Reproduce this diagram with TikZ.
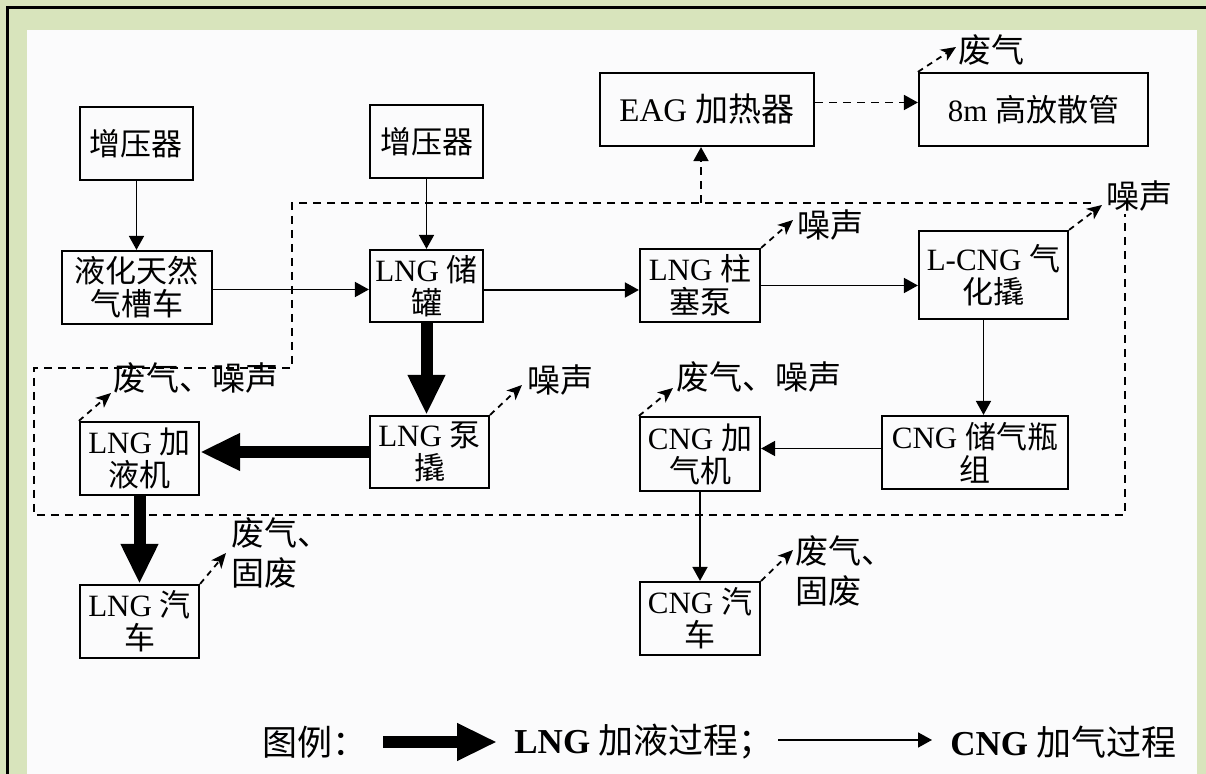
\documentclass[tikz,border=0pt]{standalone}
\usepackage{fontspec}
\setmainfont{Liberation Serif}
\newfontfamily\cjk{Noto Sans CJK SC}
\usetikzlibrary{arrows.meta}
\definecolor{bggreen}{HTML}{D8E4BC}
\definecolor{paper}{HTML}{FBFBFC}
\newcommand\zh[1]{{\cjk #1}}
\tikzset{
  box/.style={draw, line width=1.1pt, inner sep=0pt, align=center, font=\fontsize{15.5}{16.5}\selectfont},
  flow/.style={line width=0.9pt, -{Triangle[width=7.5pt,length=7pt]}},
  bigflow/.style={line width=6pt, -{Triangle[width=17.5pt,length=20pt]}},
  dashflow/.style={line width=0.9pt, dash pattern=on 4pt off 3pt, -{Triangle[width=7.5pt,length=7pt]}},
  region/.style={line width=0.9pt, dash pattern=on 4pt off 3pt},
  emit/.style={line width=0.9pt, dash pattern=on 3pt off 2.5pt, -{Stealth[width=6.5pt,length=7.5pt,inset=2pt]}},
  lbl/.style={inner sep=0pt, anchor=west, align=left, font=\fontsize{16.5}{20}\selectfont},
  legend/.style={inner sep=0pt, anchor=west, font=\fontsize{17.5}{20}\selectfont},
}
\begin{document}
\begin{tikzpicture}[x=0.5pt,y=-0.5pt]
\useasboundingbox (0,0) rectangle (1206,774);
% frame
\fill[bggreen] (0,0) rectangle (1206,774);
\fill[paper] (27,30) rectangle (1197,774);
\draw[line width=1.5pt] (7,774) -- (7,8) -- (1206,8);

% boxes
\node[box, minimum width=56.5pt, minimum height=36.5pt] (b1) at (136.5,143.5) {\zh{增压器}};
\node[box, minimum width=56.5pt, minimum height=36.5pt] (b2) at (426.5,141.5) {\zh{增压器}};
\node[box, minimum width=107pt, minimum height=36.5pt, font=\fontsize{16.5}{18}\selectfont] (eag) at (707,109.5) {EAG \zh{加热器}};
\node[box, minimum width=114.5pt, minimum height=36.5pt] (vent) at (1033.5,109.5) {8m \zh{高放散管}};
\node[box, minimum width=75pt, minimum height=36.5pt] (truck) at (137,287.5) {\zh{液化天然}\\\zh{气槽车}};
\node[box, minimum width=56.5pt, minimum height=36pt] (tank) at (426.5,286) {LNG \zh{储}\\\zh{罐}};
\node[box, minimum width=60pt, minimum height=36.5pt] (pump) at (700,285.5) {LNG \zh{柱}\\\zh{塞泵}};
\node[box, minimum width=74.5pt, minimum height=44pt] (vap) at (993.5,275) {L-CNG \zh{气}\\\zh{化撬}};
\node[box, minimum width=59.5pt, minimum height=36.5pt] (disp) at (139.5,458.5) {LNG \zh{加}\\\zh{液机}};
\node[box, minimum width=59.5pt, minimum height=36pt] (skid) at (429.5,452) {LNG \zh{泵}\\\zh{撬}};
\node[box, minimum width=59.5pt, minimum height=36.5pt] (lcar) at (139.5,621.5) {LNG \zh{汽}\\\zh{车}};
\node[box, minimum width=60pt, minimum height=37pt] (cngd) at (700,454) {CNG \zh{加}\\\zh{气机}};
\node[box, minimum width=93pt, minimum height=36.5pt] (store) at (975,452.5) {CNG \zh{储气瓶}\\\zh{组}};
\node[box, minimum width=60pt, minimum height=36.5pt] (ccar) at (700,618.5) {CNG \zh{汽}\\\zh{车}};

% dashed region
\draw[region] (1091,203) -- (292,203) -- (292,368) -- (34,368) -- (34,515) -- (1125,515) -- (1125,214);
\coordinate (tap) at (701,203);
\draw[dashflow] (tap) -- (tap |- eag.south);
\draw[dashflow] ([yshift=3.5pt]eag.east) -- ([yshift=3.5pt]eag.east -| vent.west);

% thin flows
\draw[flow] (b1.south) -- (b1.south |- truck.north);
\draw[flow] (b2.south) -- (b2.south |- tank.north);
\draw[flow] ([yshift=-1pt]truck.east) -- ([yshift=-1pt]truck.east -| tank.west);
\draw[flow] ([yshift=-2pt]tank.east) -- ([yshift=-2pt]tank.east -| pump.west);
\draw[flow] (pump.east) -- (pump.east -| vap.west);
\draw[flow] ([xshift=-5pt]vap.south) -- ([xshift=-5pt]vap.south |- store.north);
\draw[flow] ([yshift=2pt]store.west) -- ([yshift=2pt]store.west -| cngd.east);
\draw[flow] (cngd.south) -- (cngd.south |- ccar.north);

% thick flows
\draw[bigflow] (tank.south) -- (tank.south |- skid.north);
\draw[bigflow] (skid.west) -- (skid.west -| disp.east);
\draw[bigflow] (disp.south) -- (disp.south |- lcar.north);

% emissions
\coordinate (e1) at (956,47);
\draw[emit] (vent.north west) -- (e1);
\node[lbl] (l1) at (958,50) {\zh{废气}};
\coordinate (e2) at (1102,205);
\draw[emit] (vap.north east) -- (e2);
\node[lbl, fill=paper, inner sep=1pt] (l2) at (1104,196) {\zh{噪声}};
\coordinate (e3) at (793,220);
\draw[emit] (pump.north east) -- (e3);
\node[lbl] (l3) at (797,225) {\zh{噪声}};
\coordinate (e4) at (673,388);
\draw[emit] (cngd.north west) -- (e4);
\node[lbl] (l4) at (676,377) {\zh{废气、噪声}};
\coordinate (e5) at (522,385);
\draw[emit] (skid.north east) -- (e5);
\node[lbl] (l5) at (527,380) {\zh{噪声}};
\coordinate (e6) at (111,393);
\draw[emit] (disp.north west) -- (e6);
\node[lbl] (l6) at (113,378) {\zh{废气、噪声}};
\coordinate (e7) at (226,553);
\draw[emit] (lcar.north east) -- (e7);
\node[lbl] (l7) at (231,553) {\zh{废气、}\\\zh{固废}};
\coordinate (e8) at (793,550);
\draw[emit] (ccar.north east) -- (e8);
\node[lbl] (l8) at (795,571) {\zh{废气、}\\\zh{固废}};

% legend
\node[legend] (lg) at (262,742) {\zh{图例：}};
\coordinate (la1) at (383,742);
\coordinate (la2) at (497,742);
\draw[bigflow] (la1) -- (la2);
\node[legend] (lt1) at (514,742) {\textbf{LNG} \zh{加液过程；}};
\coordinate (lb1) at (778,740);
\coordinate (lb2) at (932,740);
\draw[flow] (lb1) -- (lb2);
\node[legend] (lt2) at (950,742) {\textbf{CNG} \zh{加气过程}};
\end{tikzpicture}
\end{document}
